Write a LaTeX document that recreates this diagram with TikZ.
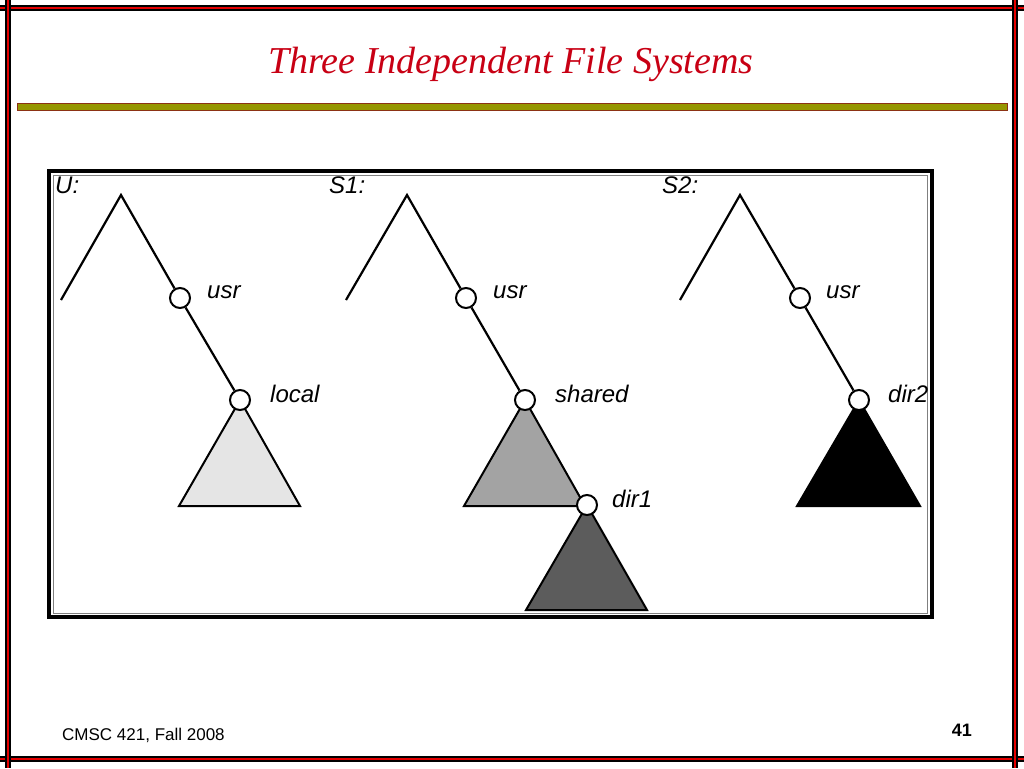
\documentclass[tikz,border=0pt]{standalone}
\usepackage{fontspec}
\setmainfont{Liberation Serif}
\setsansfont{Liberation Sans}
\usetikzlibrary{backgrounds}
\definecolor{titlered}{RGB}{200,0,20}
\definecolor{ruleolive}{RGB}{150,150,0}
\definecolor{rulebrown}{RGB}{140,50,20}
\definecolor{lightfill}{gray}{0.9}
\definecolor{midfill}{gray}{0.64}
\definecolor{darkfill}{gray}{0.36}
\tikzset{
  slideline/.style={line width=1.4pt, double=red!90!black, double distance=2.6pt},
  dirnode/.style={circle, draw, fill=white, line width=2pt, minimum size=20pt, inner sep=0pt},
  lbl/.style={anchor=base west, inner sep=0pt, font=\sffamily\itshape\fontsize{24}{24}\selectfont},
  branch/.style={line width=2.2pt},
  subtree/.style={draw, line width=2pt, line join=miter}
}

\begin{document}
\begin{tikzpicture}[x=1pt,y=-1pt]
\useasboundingbox (0,0) rectangle (1024,768);
                \draw[slideline] (0,8)--(1024,8);
                \draw[slideline] (0,759)--(1024,759);
                \draw[slideline] (8,0)--(8,768);
                \draw[slideline] (1015,0)--(1015,768);
                \filldraw[fill=ruleolive, draw=rulebrown, line width=0.8pt] (17,103)rectangle(1007,110);
                \node[font=\itshape\fontsize{38}{40}\selectfont, text=titlered, anchor=base] (title) at (511,73) {Three Independent File Systems};
                \draw[line width=4pt] (49,171)rectangle(932,617);
                \draw[line width=1pt, gray] (53,175)rectangle(927,613);
                \node[lbl] (u-name) at (55,193) {U:};
                \node[lbl] (s1-name) at (329,193) {S1:};
                \node[lbl] (s2-name) at (662,193) {S2:};

                \coordinate (u-top) at (121,195);
                \coordinate (u-left) at (61,300);
                \node[dirnode] (u-usr) at (180,298) {};
                \node[dirnode] (u-local) at (240,400) {};
                \draw[branch] (u-left)--(u-top)--(u-usr)--(u-local);
                \node[lbl] (u-usr-lbl) at ([xshift=27pt]u-usr.center) {usr};
                \node[lbl] (u-local-lbl) at ([xshift=30pt,yshift=-2pt]u-local.center) {local};

                \coordinate (s1-top) at (407,195);
                \coordinate (s1-left) at (346,300);
                \node[dirnode] (s1-usr) at (466,298) {};
                \node[dirnode] (s1-shared) at (525,400) {};
                \node[dirnode] (s1-dir1) at (587,505) {};
                \draw[branch] (s1-left)--(s1-top)--(s1-usr)--(s1-shared);
                \node[lbl] (s1-usr-lbl) at ([xshift=27pt]s1-usr.center) {usr};
                \node[lbl] (s1-shared-lbl) at ([xshift=30pt,yshift=-2pt]s1-shared.center) {shared};
                \node[lbl] (s1-dir1-lbl) at ([xshift=25pt,yshift=-2pt]s1-dir1.center) {dir1};

                \coordinate (s2-top) at (740,195);
                \coordinate (s2-left) at (680,300);
                \node[dirnode] (s2-usr) at (800,298) {};
                \node[dirnode] (s2-dir2) at (859,400) {};
                \draw[branch] (s2-left)--(s2-top)--(s2-usr)--(s2-dir2);
                \node[lbl] (s2-usr-lbl) at ([xshift=26pt]s2-usr.center) {usr};
                \node[lbl] (s2-dir2-lbl) at ([xshift=29pt,yshift=-2pt]s2-dir2.center) {dir2};

                \begin{scope}[on background layer]
                \filldraw[subtree, fill=lightfill] (u-local.center)--(179,506)--(300,506)--cycle;
                \filldraw[subtree, fill=midfill] (s1-shared.center)--(464,506)--(585,506)--cycle;
                \filldraw[subtree, fill=darkfill] (s1-dir1.center)--(526,610)--(647,610)--cycle;
                \filldraw[subtree, fill=black] (s2-dir2.center)--(797,506)--(920,506)--cycle;
                \end{scope}

                \node[anchor=base west, inner sep=0pt, font=\sffamily\fontsize{17}{17}\selectfont] (footer) at (62,740) {CMSC 421, Fall 2008};
                \node[anchor=base east, inner sep=0pt, font=\sffamily\bfseries\fontsize{18}{18}\selectfont] (pagenum) at (972,736) {41};
\end{tikzpicture}
\end{document}
